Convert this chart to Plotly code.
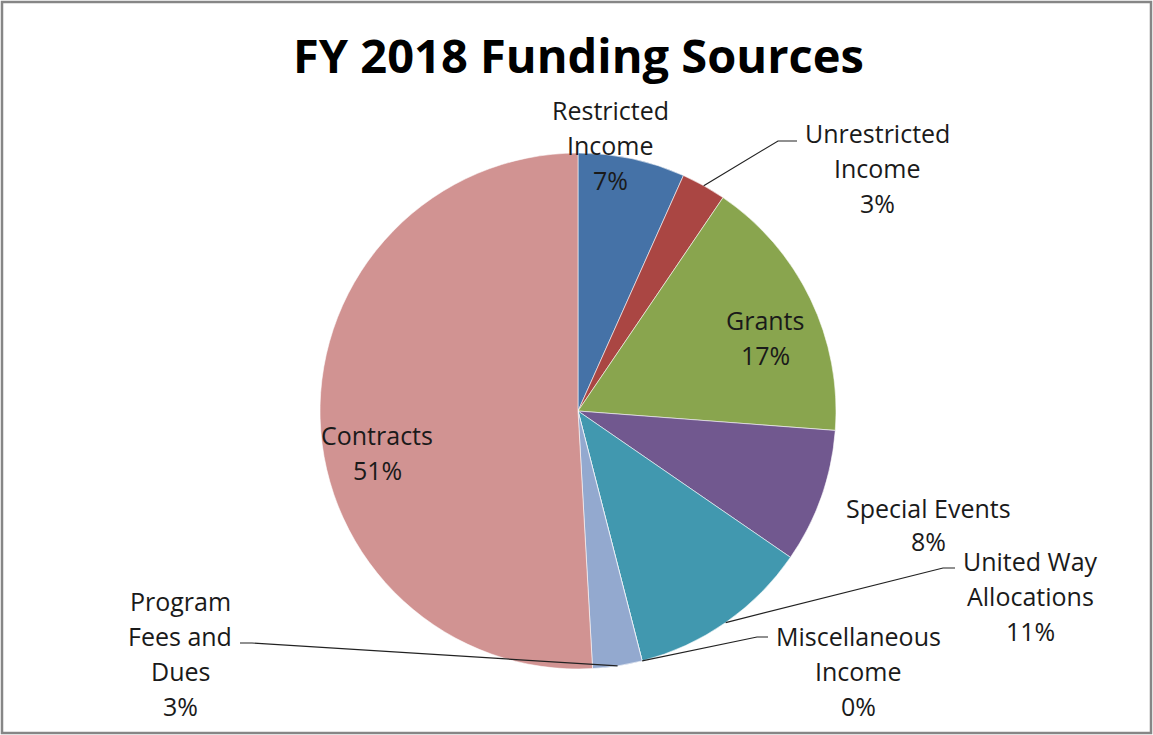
import math
import plotly.graph_objects as go

# ---- data ----
categories = ["Restricted Income", "Unrestricted Income", "Grants", "Special Events",
              "United Way Allocations", "Miscellaneous Income", "Program Fees and Dues", "Contracts"]
values = [6.7, 2.8, 16.7, 8.4, 11.4, 0.0, 3.1, 50.9]
colors = ["#4572A7", "#AA4643", "#89A54E", "#71588F", "#4198AF", "#DB843D", "#93A9CF", "#D19392"]
# wrapped display lines for each category label
label_lines = [["Restricted", "Income"], ["Unrestricted", "Income"], ["Grants"], ["Special Events"],
               ["United Way", "Allocations"], ["Miscellaneous", "Income"], ["Program", "Fees and", "Dues"],
               ["Contracts"]]
title = "FY 2018 Funding Sources"

# ---- layout constants (pixels) ----
W, H = 1153, 735
CX, CY, R = 578, 411, 258
FONT = "Open Sans"
TXT = "#1a1a1a"
LINE_GAP = 35
# label placement: center x, first-line y, optional leader elbow and end
placement = {
    "Restricted Income": dict(x=610, y=110),
    "Unrestricted Income": dict(x=877, y=133, elbow=(778, 141), end=(797, 141)),
    "Grants": dict(x=765, y=320),
    "Special Events": dict(x=928, y=508, gap=33),
    "United Way Allocations": dict(x=1030, y=561, elbow=(943, 568), end=(955, 568)),
    "Miscellaneous Income": dict(x=858, y=636, elbow=(757, 637), end=(768, 637)),
    "Program Fees and Dues": dict(x=180, y=601, elbow=(252, 643), end=(240, 643)),
    "Contracts": dict(x=377, y=435),
}


def P(x, y):
    return x / W, 1 - y / H


fig = go.Figure(go.Pie(
    labels=categories, values=values, sort=False, direction="clockwise", rotation=0,
    marker=dict(colors=colors, line=dict(color="rgba(255,255,255,0.7)", width=0.8)),
    textinfo="none", hoverinfo="label+percent", showlegend=False,
    domain=dict(x=[(CX - R) / W, (CX + R) / W], y=[1 - (CY + R) / H, 1 - (CY - R) / H]),
))

total = sum(values)
annotations = []
shapes = []
cum = 0.0
for cat, v, lines in zip(categories, values, label_lines):
    mid = (cum + v / 2) / total * 2 * math.pi
    cum += v
    pct = f"{round(v / total * 100)}%"
    pl = placement[cat]
    gap = pl.get("gap", LINE_GAP)
    for i, t in enumerate(lines + [pct]):
        px, py = P(pl["x"], pl["y"] + i * gap)
        annotations.append(dict(x=px, y=py, xref="paper", yref="paper", text=t, showarrow=False,
                                xanchor="center", yanchor="middle",
                                font=dict(family=FONT, size=25, color=TXT)))
    if "elbow" in pl:
        ex, ey = CX + R * math.sin(mid), CY - R * math.cos(mid)
        a = P(ex, ey)
        b = P(*pl["elbow"])
        c = P(*pl["end"])
        shapes.append(dict(type="path", xref="paper", yref="paper",
                           path=f"M {a[0]},{a[1]} L {b[0]},{b[1]} L {c[0]},{c[1]}",
                           line=dict(color="#222", width=1.2)))

# chart border
shapes.append(dict(type="rect", xref="paper", yref="paper", x0=2 / W, x1=1 - 2 / W, y0=2 / H, y1=1 - 2 / H,
                   line=dict(color="#868686", width=2.5)))

tx, ty = P(578, 55)
annotations.append(dict(x=tx, y=ty, xref="paper", yref="paper", text=f"<b>{title}</b>", showarrow=False,
                        xanchor="center", yanchor="middle", font=dict(family=FONT, size=47, color="#000")))

fig.update_layout(width=W, height=H, margin=dict(l=0, r=0, t=0, b=0),
                  paper_bgcolor="white", plot_bgcolor="white",
                  annotations=annotations, shapes=shapes)

fig.write_html("out.html", config={"displayModeBar": False},
               post_script="document.body.style.margin='0px';document.body.style.overflow='hidden';")
